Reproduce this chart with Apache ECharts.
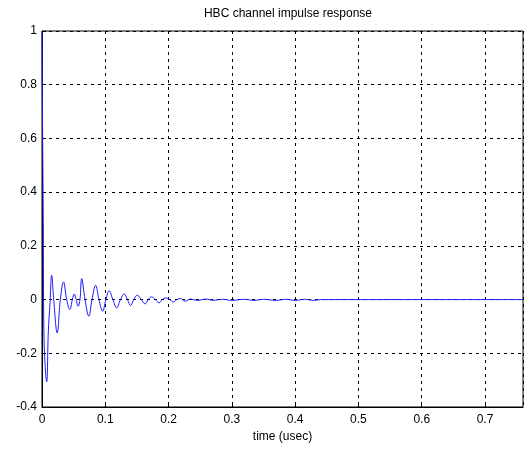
<!DOCTYPE html>
<html>
<head>
    <meta charset="utf-8">
    <title>HBC channel impulse response</title>
    <script src="https://cdn.jsdelivr.net/npm/echarts@6/dist/echarts.min.js"></script>
    <style>
        html, body {
            margin: 0;
            padding: 0;
            background: #fff;
        }
        #main {
            width: 529px;
            height: 449px;
        }
    </style>
</head>
<body>
<div id="main"></div>
<script type="text/javascript">
    // time axis (usec) and impulse response amplitude
    var timeUs = [
        0, 0.0005, 0.002, 0.003, 0.0055, 0.0074, 0.010, 0.0125, 0.0153, 0.0185,
        0.024, 0.029, 0.034, 0.039, 0.044, 0.048, 0.051, 0.054, 0.057, 0.060,
        0.0627, 0.068, 0.074, 0.079, 0.0848, 0.090, 0.0958, 0.101, 0.106, 0.112,
        0.118, 0.124, 0.130, 0.135, 0.140, 0.145, 0.1506, 0.157, 0.163, 0.168,
        0.173, 0.179, 0.185, 0.190, 0.196, 0.202, 0.2075, 0.213, 0.219, 0.226,
        0.235, 0.245, 0.26, 0.27, 0.285, 0.30, 0.32, 0.335, 0.35, 0.37,
        0.385, 0.40, 0.415, 0.43, 0.44, 0.76
    ];
    var amplitude = [
        1, 0.77, 0.29, -0.12, -0.27, -0.306, -0.118, -0.02, 0.09, 0.0,
        -0.124, 0.0, 0.066, 0.0, -0.037, 0.0, 0.021, 0.0, -0.025, 0.0,
        0.078, 0.0, -0.062, 0.0, 0.053, 0.0, -0.043, 0.0, 0.033, 0.0,
        -0.031, 0.0, 0.021, 0.0, -0.022, 0.0, 0.016, 0.0, -0.016, 0.0,
        0.01, 0.0, -0.012, 0.0, 0.006, 0.0, -0.009, 0.0, 0.004, -0.006,
        0.002, -0.003, 0.002, -0.003, 0.001, -0.003, 0.001, -0.003, 0.001, -0.003,
        0.001, -0.003, 0.001, -0.003, 0, 0
    ];

    var xTickStep = 0.1;
    var yTickStep = 0.2;

    var lineData = timeUs.map((t, i) => [t, amplitude[i]]);

    var myChart = echarts.init(document.getElementById('main'));

    var font = 'Liberation Sans, Arial, sans-serif';
    var gridDash = {color: '#000', type: [3, 4], width: 1};

    var option = {
        backgroundColor: '#fff',
        animation: false,
        title: {
            text: 'HBC channel impulse response',
            left: 283,
            textAlign: 'center',
            top: 3,
            textStyle: {fontFamily: font, fontSize: 12, fontWeight: 'normal', color: '#000'}
        },
        grid: {
            left: 42, top: 31, right: 6, bottom: 42,
            show: true, borderColor: '#000', borderWidth: 1
        },
        xAxis: {
            type: 'value',
            min: 0,
            max: 0.76,
            interval: xTickStep,
            name: 'time (usec)',
            nameLocation: 'middle',
            nameGap: 23,
            nameTextStyle: {fontFamily: font, fontSize: 12, color: '#000'},
            axisLine: {onZero: false, lineStyle: {color: '#000'}},
            axisTick: {inside: true, length: 4, lineStyle: {color: '#000'}},
            axisLabel: {fontFamily: font, fontSize: 12, color: '#000', margin: 7, showMaxLabel: false},
            splitLine: {show: true, lineStyle: gridDash}
        },
        yAxis: {
            type: 'value',
            min: -0.4,
            max: 1,
            interval: yTickStep,
            axisLine: {show: true, lineStyle: {color: '#000'}},
            axisTick: {show: true, inside: true, length: 4, lineStyle: {color: '#000'}},
            axisLabel: {fontFamily: font, fontSize: 12, color: '#000', margin: 5},
            splitLine: {show: true, lineStyle: gridDash}
        },
        series: [
            {
                type: 'line',
                data: lineData,
                showSymbol: false,
                smooth: 0.4,
                lineStyle: {color: '#1a1aff', width: 1},
                z: 5
            }
        ]
    };

    myChart.setOption(option);
</script>
</body>
</html>
